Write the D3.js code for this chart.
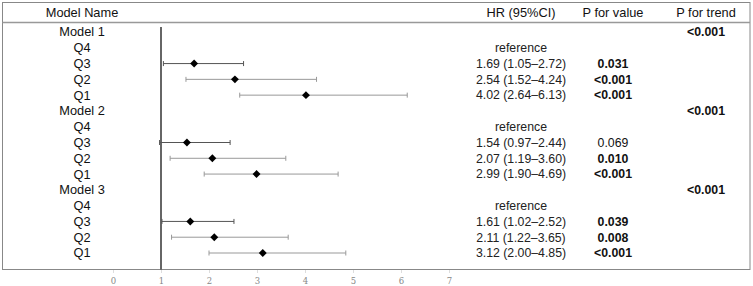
<!DOCTYPE html>
<html>
<head>
<meta charset="utf-8">
<script src="https://cdn.jsdelivr.net/npm/d3@7"></script>
<style>
  html, body { margin: 0; padding: 0; background: #fff; }
  svg { display: block; }
</style>
</head>
<body>
<svg id="forest" width="753" height="286"></svg>
<script>
'use strict';

var labels = ['Model 1', 'Q4', 'Q3', 'Q2', 'Q1', 'Model 2', 'Q4', 'Q3', 'Q2', 'Q1', 'Model 3', 'Q4', 'Q3', 'Q2', 'Q1'];
var hr = [null, null, 1.69, 2.54, 4.02, null, null, 1.54, 2.07, 2.99, null, null, 1.61, 2.11, 3.12];
var lower = [null, null, 1.05, 1.52, 2.64, null, null, 0.97, 1.19, 1.90, null, null, 1.02, 1.22, 2.00];
var upper = [null, null, 2.72, 4.24, 6.13, null, null, 2.44, 3.60, 4.69, null, null, 2.52, 3.65, 4.85];
var hrText = ['', 'reference', '1.69 (1.05\u20132.72)', '2.54 (1.52\u20134.24)', '4.02 (2.64\u20136.13)',
  '', 'reference', '1.54 (0.97\u20132.44)', '2.07 (1.19\u20133.60)', '2.99 (1.90\u20134.69)',
  '', 'reference', '1.61 (1.02\u20132.52)', '2.11 (1.22\u20133.65)', '3.12 (2.00\u20134.85)'];
var pValue = ['', '', '0.031', '<0.001', '<0.001', '', '', '0.069', '0.010', '<0.001', '', '', '0.039', '0.008', '<0.001'];
var pBold = [false, false, true, true, true, false, false, false, true, true, false, false, true, true, true];
var pTrend = ['<0.001', '', '', '', '', '<0.001', '', '', '', '', '<0.001', '', '', '', ''];
var headers = ['Model Name', 'HR (95%CI)', 'P for value', 'P for trend'];
var xTicks = [0, 1, 2, 3, 4, 5, 6, 7];

var svg = d3.select('#forest');
var font = '"Liberation Sans", Arial, sans-serif';

var x = d3.scaleLinear().domain([0, 7]).range([113, 449]);
var y = d3.scalePoint().domain(d3.range(labels.length)).range([32, 253]);
var colX = [82, 521, 613, 706];

// frame
svg.append('rect').attr('x', 2.5).attr('y', 2.5).attr('width', 747.5).attr('height', 267)
  .attr('fill', 'none').attr('stroke', '#888').attr('stroke-width', 1);
svg.append('line').attr('x1', 2.5).attr('x2', 750).attr('y1', 22.5).attr('y2', 22.5)
  .attr('stroke', '#999').attr('stroke-width', 1.5);

// header
svg.append('g').selectAll('text').data(headers).enter().append('text')
  .attr('x', function (d, i) { return colX[i]; })
  .attr('y', 17)
  .attr('text-anchor', 'middle')
  .attr('font-family', font).attr('font-size', 12.8).attr('fill', '#111')
  .text(function (d) { return d; });

// reference line at HR = 1
svg.append('line').attr('x1', x(1)).attr('x2', x(1)).attr('y1', 27).attr('y2', 269.5)
  .attr('stroke', '#333').attr('stroke-width', 1.5);

// axis
var axis = d3.axisBottom(x).tickValues(xTicks).tickSize(3).tickFormat(d3.format('d'));
var ax = svg.append('g').attr('transform', 'translate(0,270)').call(axis);
ax.select('.domain').remove();
ax.selectAll('line').attr('stroke', '#ddd');
ax.selectAll('text').attr('font-family', '"DejaVu Serif", "Liberation Serif", serif')
  .attr('font-size', 8.5).attr('fill', '#888').attr('dy', '0.9em');

// rows text
var rows = svg.append('g').selectAll('g').data(labels).enter().append('g')
  .attr('transform', function (d, i) { return 'translate(0,' + y(i) + ')'; });

rows.append('text').attr('x', colX[0]).attr('dy', '0.35em').attr('text-anchor', 'middle')
  .attr('font-family', font).attr('font-size', 12.8).attr('fill', '#111')
  .text(function (d) { return d; });

rows.append('text').attr('x', colX[1]).attr('dy', '0.35em').attr('text-anchor', 'middle')
  .attr('font-family', font).attr('font-size', 12.3).attr('fill', '#222')
  .text(function (d, i) { return hrText[i]; });

rows.append('text').attr('x', colX[2]).attr('dy', '0.35em').attr('text-anchor', 'middle')
  .attr('font-family', font).attr('font-size', 12.3).attr('fill', '#111')
  .attr('font-weight', function (d, i) { return pBold[i] ? 'bold' : 'normal'; })
  .text(function (d, i) { return pValue[i]; });

rows.append('text').attr('x', colX[3]).attr('dy', '0.35em').attr('text-anchor', 'middle')
  .attr('font-family', font).attr('font-size', 12.3).attr('font-weight', 'bold').attr('fill', '#111')
  .text(function (d, i) { return pTrend[i]; });

// confidence intervals and points
var est = d3.range(labels.length).filter(function (i) { return hr[i] !== null; });
var ciColor = function (i) { return labels[i] === 'Q3' ? '#555' : '#999'; };

var ci = svg.append('g').selectAll('g').data(est).enter().append('g');
ci.append('line')
  .attr('x1', function (i) { return x(lower[i]); })
  .attr('x2', function (i) { return x(upper[i]); })
  .attr('y1', function (i) { return y(i); })
  .attr('y2', function (i) { return y(i); })
  .attr('stroke', ciColor).attr('stroke-width', 1);
ci.append('line')
  .attr('x1', function (i) { return x(lower[i]); })
  .attr('x2', function (i) { return x(lower[i]); })
  .attr('y1', function (i) { return y(i) - 2.5; })
  .attr('y2', function (i) { return y(i) + 2.5; })
  .attr('stroke', ciColor).attr('stroke-width', 1);
ci.append('line')
  .attr('x1', function (i) { return x(upper[i]); })
  .attr('x2', function (i) { return x(upper[i]); })
  .attr('y1', function (i) { return y(i) - 2.5; })
  .attr('y2', function (i) { return y(i) + 2.5; })
  .attr('stroke', ciColor).attr('stroke-width', 1);
ci.append('path')
  .attr('d', d3.symbol().type(d3.symbolDiamond2).size(40))
  .attr('transform', function (i) { return 'translate(' + x(hr[i]) + ',' + y(i) + ')'; })
  .attr('fill', '#000');
</script>
</body>
</html>
